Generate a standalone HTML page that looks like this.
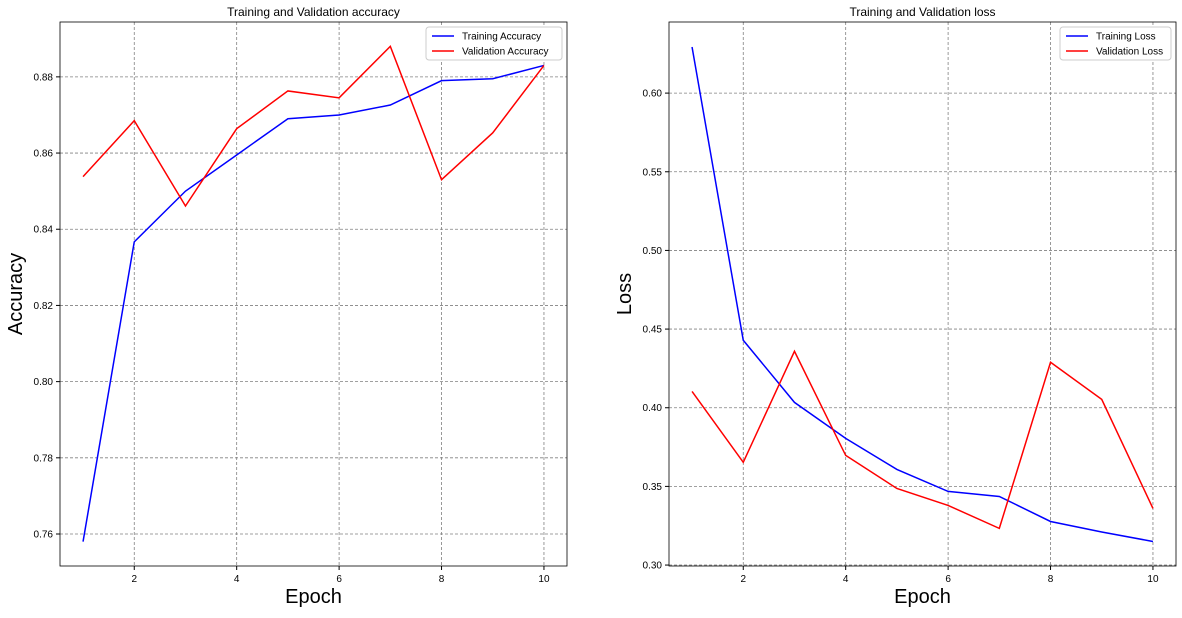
<!DOCTYPE html>
<html><head><meta charset="utf-8"><style>
body{margin:0;background:#fff;}
svg text{font-family:"Liberation Sans","DejaVu Sans",sans-serif;}
</style></head><body>
<svg id="c" width="1182" height="613" xmlns="http://www.w3.org/2000/svg"></svg>
<script>
const epochs=[1,2,3,4,5,6,7,8,9,10];
const trainAcc=[0.758,0.8367,0.850,0.8595,0.869,0.870,0.8726,0.879,0.8795,0.883];
const valAcc=[0.8538,0.8685,0.8461,0.8664,0.8763,0.8745,0.888,0.853,0.8653,0.883];
const trainLoss=[0.6293,0.4429,0.4034,0.3805,0.3608,0.3468,0.3436,0.3277,0.321,0.315];
const valLoss=[0.4104,0.3653,0.4359,0.3697,0.3487,0.3379,0.3233,0.4289,0.4053,0.336];
const xTicks=[2,4,6,8,10];
const accTicks=[0.76,0.78,0.80,0.82,0.84,0.86,0.88];
const lossTicks=[0.30,0.35,0.40,0.45,0.50,0.55,0.60];
const NS="http://www.w3.org/2000/svg";
const svg=document.getElementById('c');
function mk(t,a,p){const e=document.createElementNS(NS,t);for(const k in a)e.setAttribute(k,a[k]);(p||svg).appendChild(e);return e;}
function panel(cfg){
  const {x0,x1,y0,y1,xmin,xmax,ymin,ymax}=cfg;
  const sx=v=>x0+(v-xmin)/(xmax-xmin)*(x1-x0);
  const sy=v=>y1-(v-ymin)/(ymax-ymin)*(y1-y0);
  const g=mk('g',{});
  
  
  xTicks.forEach(t=>{
    const l=mk('line',{x1:sx(t),x2:sx(t),y1:y0,y2:y1,stroke:'#808080','stroke-width':0.8,'stroke-dasharray':'3,2'},g);
    
    
    mk('line',{x1:sx(t),x2:sx(t),y1:y1,y2:y1+4,stroke:'#000'},g);
    const tx=mk('text',{x:sx(t),y:y1+16,'font-size':10,'text-anchor':'middle'},g);tx.textContent=t;
    
    
  });
  cfg.yt.forEach(t=>{
    const l=mk('line',{x1:x0,x2:x1,y1:sy(t),y2:sy(t),stroke:'#808080','stroke-width':0.8,'stroke-dasharray':'3,2'},g);
    
    
    mk('line',{x1:x0-4,x2:x0,y1:sy(t),y2:sy(t),stroke:'#000'},g);
    const tx=mk('text',{x:x0-7,y:sy(t)+3.5,'font-size':10,'text-anchor':'end'},g);tx.textContent=t.toFixed(2);
    
    
  });
  cfg.series.forEach(s=>{
    const p=mk('polyline',{points:epochs.map((e,i)=>sx(e)+','+sy(s.d[i])).join(' '),fill:'none',stroke:s.c,'stroke-width':1.5},g);
    
    
  });
  mk('rect',{x:x0,y:y0,width:x1-x0,height:y1-y0,fill:'none',stroke:'#000','stroke-width':0.8},g);
  const ti=mk('text',{x:(x0+x1)/2,y:y0-6,'font-size':12,'text-anchor':'middle'},g);ti.textContent=cfg.title;
  
  
  const xl=mk('text',{x:(x0+x1)/2,y:603,'font-size':20,'text-anchor':'middle'},g);xl.textContent='Epoch';
  
  
  const yl=mk('text',{x:0,y:0,'font-size':20,'text-anchor':'middle',transform:`translate(${x0-38},${(y0+y1)/2}) rotate(-90)`},g);yl.textContent=cfg.ylabel;
  
  
  const lg=mk('g',{},g);
  
  
  const lw=cfg.lw;
  mk('rect',{x:x1-lw-5,y:y0+5,width:lw,height:33,rx:3,fill:'#fff',stroke:'#ccc'},lg);
  cfg.series.forEach((s,i)=>{
    const yy=y0+14+i*15;
    mk('line',{x1:x1-lw+1,x2:x1-lw+23,y1:yy,y2:yy,stroke:s.c,'stroke-width':1.5},lg);
    const t=mk('text',{x:x1-lw+31,y:yy+3.5,'font-size':10},lg);t.textContent=s.l;
    
    
  });
}
panel({name:'accuracy-panel',x0:60,x1:567,y0:22,y1:566,xmin:0.55,xmax:10.45,ymin:0.7516,ymax:0.8944,yt:accTicks,title:'Training and Validation accuracy',ylabel:'Accuracy',lw:136,
  series:[{d:trainAcc,c:'#0000ff',n:'training-accuracy-line',l:'Training Accuracy'},{d:valAcc,c:'#ff0000',n:'validation-accuracy-line',l:'Validation Accuracy'}]});
panel({name:'loss-panel',x0:669,x1:1176,y0:22,y1:566,xmin:0.55,xmax:10.45,ymin:0.2994,ymax:0.6452,yt:lossTicks,title:'Training and Validation loss',ylabel:'Loss',lw:111,
  series:[{d:trainLoss,c:'#0000ff',n:'training-loss-line',l:'Training Loss'},{d:valLoss,c:'#ff0000',n:'validation-loss-line',l:'Validation Loss'}]});
</script>
</body></html>
